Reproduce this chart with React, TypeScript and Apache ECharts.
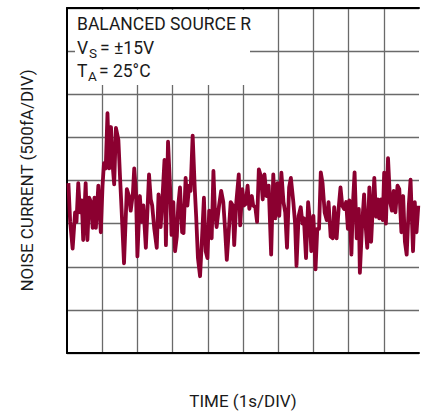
import React, { useEffect, useRef } from "react";
import * as echarts from "echarts";

// time in seconds (1 s per division)
const timeS = [
  0.04, 0.09, 0.16, 0.23, 0.27, 0.32, 0.37, 0.42, 0.46, 0.53, 0.58, 0.63, 0.68, 0.73, 0.78, 0.82,
  0.89, 0.96, 1.01, 1.05, 1.10, 1.15, 1.20, 1.25, 1.30, 1.34, 1.39, 1.46, 1.51, 1.55, 1.62, 1.70,
  1.76, 1.81, 1.87, 1.91, 1.96, 2.00, 2.07, 2.12, 2.17, 2.24, 2.33, 2.38, 2.42, 2.48, 2.55, 2.60,
  2.66, 2.72, 2.77, 2.81, 2.87, 2.93, 2.97, 3.02, 3.07, 3.12, 3.16, 3.21, 3.27, 3.31, 3.37, 3.42,
  3.47, 3.51, 3.57, 3.63, 3.67, 3.72, 3.78, 3.84, 3.89, 3.94, 3.99, 4.04, 4.11, 4.16, 4.20, 4.25,
  4.32, 4.38, 4.44, 4.49, 4.54, 4.60, 4.65, 4.71, 4.75, 4.81, 4.88, 4.92, 4.98, 5.03, 5.08, 5.13,
  5.18, 5.25, 5.29, 5.35, 5.40, 5.45, 5.51, 5.56, 5.61, 5.67, 5.73, 5.80, 5.86, 5.92, 5.98, 6.03,
  6.09, 6.15, 6.20, 6.25, 6.31, 6.36, 6.43, 6.48, 6.52, 6.58, 6.64, 6.69, 6.73, 6.79, 6.85, 6.90,
  6.94, 7.00, 7.06, 7.11, 7.16, 7.21, 7.26, 7.32, 7.38, 7.43, 7.49, 7.55, 7.59, 7.66, 7.72, 7.77,
  7.82, 7.87, 7.93, 7.98, 8.02, 8.08, 8.12, 8.17, 8.23, 8.29, 8.32, 8.38, 8.44, 8.48, 8.53, 8.59,
  8.64, 8.69, 8.73, 8.78, 8.83, 8.87, 8.92, 8.97, 9.01, 9.06, 9.12, 9.18, 9.23, 9.28, 9.33, 9.39,
  9.44, 9.50, 9.55, 9.60, 9.65, 9.71, 9.76, 9.83, 9.88, 9.93, 9.98,
];

// noise current in fA (500 fA per division)
const currentFA = [
  -30, -480, -790, -370, -480, -30, -370, -230, -690, -30, -690, -200, -250, -550, -200, -550,
  -60, -600, -60, 200, 140, 780, 140, 620, 160, -45, 610, 470, 10, -330, -960, -100,
  -180, -350, -160, 140, -140, -880, -180, -480, -290, -780, 70, -220, -290, -560, -780, -160,
  -540, -140, 240, -750, 450, -100, -630, -250, -820, -650, -290, -80, -600, -610, 30, -290,
  -60, -120, 520, -100, -420, -900, -1110, -630, -200, -820, -900, -350, -670, 110, -330, -540,
  -290, -120, -250, -560, -920, -560, -250, -290, -750, -250, 70, -520, -100, -290, -270, -60,
  -330, -180, -290, -310, -480, 130, 50, -220, 70, -180, -60, -860, 70, -440, -30, -410,
  90, -250, -370, -780, -80, 30, -250, -500, -990, -410, -310, -500, -440, -900, -250, -460,
  -820, -410, -1030, -560, -560, 95, -30, -370, -460, -250, -650, -670, -310, -670, -310, -80,
  -290, -330, -250, -560, -230, -860, -290, 95, -670, -330, -1070, -540, -160, -500, -780, -80,
  -710, -290, 30, -420, -220, -440, -220, -460, 90, -500, 260, -250, -350, -120, -370, -60,
  -100, -600, -180, -710, -860, -290, 10, -820, -250, -600, -290,
];

const xRange = [0, 10];
const yRange = [-2000, 2000];
const xStep = 1;
const yStep = 500;

const titleLine = "BALANCED SOURCE R";
const supplyMain = "V";
const supplySub = "S";
const supplyRest = "= ±15V";
const tempMain = "T";
const tempSub = "A";
const tempRest = "= 25°C";
const yName = "NOISE CURRENT (500fA/DIV)";
const xName = "TIME (1s/DIV)";

const FONT = "Roboto";
const TEXT = "#1a1a1a";
const GRID = "#6a6a6a";

export default function App() {
  const ref = useRef<HTMLDivElement>(null);

  useEffect(() => {
    if (!ref.current) return;
    const chart = echarts.init(ref.current, undefined, { renderer: "svg" });
    const seriesData = timeS.map((t, i) => [t, currentFA[i]]);

    chart.setOption({
      animation: false,
      backgroundColor: "#ffffff",
      grid: { left: 67, top: 8, width: 352, height: 352, containLabel: false },
      xAxis: [
        {
          type: "value",
          min: xRange[0],
          max: xRange[1],
          interval: xStep,
          position: "bottom",
          name: xName,
          nameLocation: "middle",
          nameGap: 39,
          nameTextStyle: { fontFamily: FONT, fontSize: 17, color: TEXT },
          axisLine: { show: true, onZero: false, lineStyle: { color: "#000", width: 2 } },
          axisTick: { show: false },
          axisLabel: { show: false },
          splitLine: {
            show: true,
            showMinLine: false,
            showMaxLine: false,
            lineStyle: { color: GRID, width: 1.3 },
          },
        },
        {
          type: "value",
          min: xRange[0],
          max: xRange[1],
          interval: xStep,
          position: "top",
          axisLine: { show: true, onZero: false, lineStyle: { color: "#000", width: 2 } },
          axisTick: { show: false },
          axisLabel: { show: false },
          splitLine: { show: false },
        },
      ],
      yAxis: {
        type: "value",
        min: yRange[0],
        max: yRange[1],
        interval: yStep,
        position: "left",
        name: yName,
        nameLocation: "middle",
        nameGap: 32,
        nameTextStyle: { fontFamily: FONT, fontSize: 17, color: TEXT },
        axisLine: { show: true, onZero: false, lineStyle: { color: "#000", width: 2 } },
        axisTick: { show: false },
        axisLabel: { show: false },
        splitLine: { show: true, lineStyle: { color: GRID, width: 1.3 } },
      },
      series: [
        {
          type: "line",
          xAxisIndex: 0,
          data: seriesData,
          showSymbol: false,
          symbol: "none",
          lineStyle: { color: "#8b0030", width: 3.8, join: "round" },
          z: 3,
        },
      ],
      graphic: [
        {
          type: "rect",
          z: 50,
          shape: { x: 75, y: 10, width: 175, height: 75 },
          style: { fill: "#ffffff" },
        },
        {
          type: "text",
          z: 51,
          x: 77,
          y: 24,
          style: { text: titleLine, font: `17.5px ${FONT}`, fill: TEXT, verticalAlign: "middle" },
        },
        {
          type: "text",
          z: 51,
          x: 77,
          y: 48,
          style: { text: supplyMain, font: `17.5px ${FONT}`, fill: TEXT, verticalAlign: "middle" },
        },
        {
          type: "text",
          z: 51,
          x: 89,
          y: 53,
          style: { text: supplySub, font: `13.5px ${FONT}`, fill: TEXT, verticalAlign: "middle" },
        },
        {
          type: "text",
          z: 51,
          x: 100,
          y: 48,
          style: { text: supplyRest, font: `17.5px ${FONT}`, fill: TEXT, verticalAlign: "middle" },
        },
        {
          type: "text",
          z: 51,
          x: 77,
          y: 71,
          style: { text: tempMain, font: `17.5px ${FONT}`, fill: TEXT, verticalAlign: "middle" },
        },
        {
          type: "text",
          z: 51,
          x: 88,
          y: 76,
          style: { text: tempSub, font: `13.5px ${FONT}`, fill: TEXT, verticalAlign: "middle" },
        },
        {
          type: "text",
          z: 51,
          x: 99,
          y: 71,
          style: { text: tempRest, font: `17.5px ${FONT}`, fill: TEXT, verticalAlign: "middle" },
        },
      ],
    });

    return () => chart.dispose();
  }, []);

  return (
    <div
      ref={ref}
      style={{ position: "fixed", left: 0, top: 0, width: 424, height: 414, background: "#fff" }}
    />
  );
}
